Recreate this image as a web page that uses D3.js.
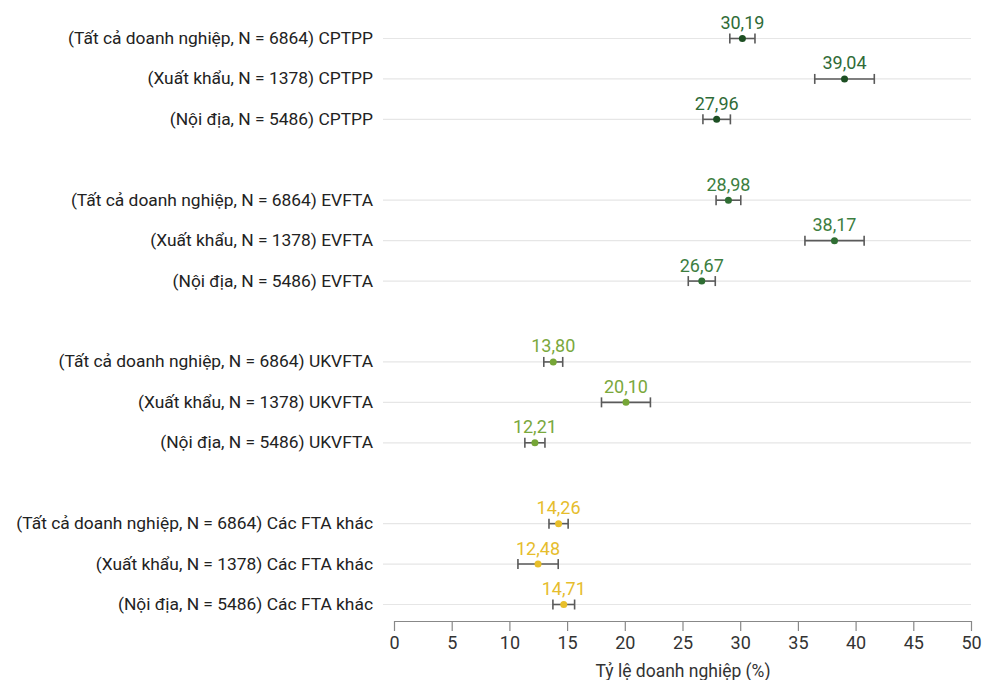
<!DOCTYPE html>
<html><head><meta charset="utf-8">
<script src="https://cdn.jsdelivr.net/npm/d3@7"></script>
<style>body{margin:0;background:#fff}svg{display:block}text{font-family:Roboto,"Noto Sans",sans-serif}</style>
</head><body><svg id="c" width="985" height="680"></svg>
<script>
const groups = ["CPTPP","EVFTA","UKVFTA","Các FTA khác"];
const segments = ["Tất cả doanh nghiệp, N = 6864","Xuất khẩu, N = 1378","Nội địa, N = 5486"];
const values = [[30.19,39.04,27.96],[28.98,38.17,26.67],[13.80,20.10,12.21],[14.26,12.48,14.71]];
const lows  = [[29.10,36.46,26.77],[27.91,35.61,25.50],[12.98,17.98,11.34],[13.43,10.74,13.77]];
const highs = [[31.28,41.62,29.15],[30.05,40.74,27.84],[14.62,22.22,13.08],[15.09,14.23,15.65]];
const ticks = [0,5,10,15,20,25,30,35,40,45,50];
const textColors = ["#2f6b37","#3d7e3f","#7aa83c","#e6bd2c"];
const dotColors  = ["#1d4f23","#2f6e33","#76a637","#e8bf2a"];
const axisTitle = "Tỷ lệ doanh nghiệp (%)";

const svg = d3.select("#c");
const x = d3.scaleLinear().domain([0,50]).range([394,971]);
const slots = d3.range(15);
const y = d3.scalePoint().domain(slots).range([38,604]);

const rows = [];
groups.forEach((g,gi)=>segments.forEach((s,si)=>rows.push({
  label:`(${s}) ${g}`, v:values[gi][si], lo:lows[gi][si], hi:highs[gi][si],
  slot:gi*4+si, tc:textColors[gi], dc:dotColors[gi]})));

// gridlines
svg.append("g").selectAll("line").data(rows).join("line")
  .attr("x1",383).attr("x2",971)
  .attr("y1",d=>y(d.slot)+0.5).attr("y2",d=>y(d.slot)+0.5)
  .attr("stroke","#e6e6e6").attr("stroke-width",1.2);

// labels
svg.append("g").selectAll("text").data(rows).join("text")
  .attr("x",373).attr("y",d=>y(d.slot)+6)
  .attr("text-anchor","end").attr("font-size",17.4).attr("fill","#222")
  .text(d=>d.label);

// error bars
const eb = svg.append("g").attr("stroke","#5a5a5a").attr("stroke-width",1.6);
rows.forEach(d=>{
  const yy=y(d.slot)+0.5;
  eb.append("line").attr("x1",x(d.lo)).attr("x2",x(d.hi)).attr("y1",yy).attr("y2",yy);
  eb.append("line").attr("x1",x(d.lo)).attr("x2",x(d.lo)).attr("y1",yy-5).attr("y2",yy+5);
  eb.append("line").attr("x1",x(d.hi)).attr("x2",x(d.hi)).attr("y1",yy-5).attr("y2",yy+5);
});

// dots
svg.append("g").selectAll("circle").data(rows).join("circle")
  .attr("cx",d=>x(d.v)).attr("cy",d=>y(d.slot)+0.5).attr("r",3.5).attr("fill",d=>d.dc);

// value labels
svg.append("g").selectAll("text").data(rows).join("text")
  .attr("x",d=>x(d.v)).attr("y",d=>y(d.slot)-9)
  .attr("text-anchor","middle").attr("font-size",18).attr("fill",d=>d.tc)
  .text(d=>d.v.toFixed(2).replace(".",","));

// axis
const ax = svg.append("g").attr("transform","translate(0,621)")
  .call(d3.axisBottom(x).tickValues(ticks).tickSize(10).tickSizeOuter(0));
ax.select(".domain").attr("stroke","#888").attr("stroke-width",1.2);
ax.selectAll(".tick line").attr("stroke","#888").attr("stroke-width",1.2);
ax.selectAll(".tick text").attr("font-size",18).attr("fill","#333").attr("dy","0.85em")
  .attr("font-family","Roboto,'Noto Sans',sans-serif");

svg.append("text").attr("x",x(25)+0.5).attr("y",677).attr("text-anchor","middle")
  .attr("font-size",17.5).attr("fill","#333").text(axisTitle);
</script></body></html>
